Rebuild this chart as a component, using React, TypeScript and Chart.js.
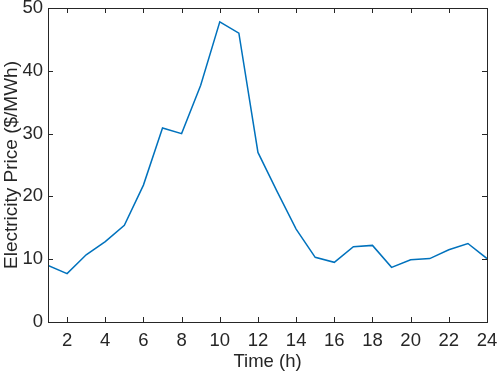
import React, { useEffect, useRef } from "react";
import { Chart, registerables } from "chart.js";

Chart.register(...registerables);

const hours = [1, 2, 3, 4, 5, 6, 7, 8, 9, 10, 11, 12, 13, 14, 15, 16, 17, 18, 19, 20, 21, 22, 23, 24];
const prices = [9.0, 7.7, 10.7, 12.8, 15.4, 21.8, 30.9, 30.0, 37.7, 47.8, 46.0, 27.0, 20.8, 14.8, 10.3, 9.5, 12.0, 12.2, 8.7, 9.9, 10.1, 11.5, 12.5, 10.1];
const xTickValues = [2, 4, 6, 8, 10, 12, 14, 16, 18, 20, 22, 24];
const yTickValues = [0, 10, 20, 30, 40, 50];
const xLabel = "Time (h)";
const yLabel = "Electricity Price ($/MWh)";

const FONT = "'Liberation Sans', Arial, Helvetica, sans-serif";
const AXIS_COLOR = "#262626";
const FS = 18.5;

const boxPlugin = {
  id: "matlabBox",
  afterDraw(chart: any) {
    const { ctx, chartArea } = chart;
    const { left, right, top, bottom } = chartArea;
    const xs = chart.scales.x;
    const ys = chart.scales.y;
    const len = 5;
    ctx.save();
    ctx.strokeStyle = AXIS_COLOR;
    ctx.lineWidth = 1;
    ctx.beginPath();
    xs.ticks.forEach((t: any) => {
      const px = Math.round(xs.getPixelForValue(t.value)) + 0.5;
      ctx.moveTo(px, bottom);
      ctx.lineTo(px, bottom - len);
      ctx.moveTo(px, top);
      ctx.lineTo(px, top + len);
    });
    ys.ticks.forEach((t: any) => {
      const py = Math.round(ys.getPixelForValue(t.value)) + 0.5;
      ctx.moveTo(left, py);
      ctx.lineTo(left + len, py);
      ctx.moveTo(right, py);
      ctx.lineTo(right - len, py);
    });
    ctx.stroke();
    ctx.strokeRect(Math.round(left) + 0.5, Math.round(top) + 0.5, Math.round(right - left), Math.round(bottom - top));
    ctx.restore();
  },
};

export default function App() {
  const ref = useRef<HTMLCanvasElement>(null);
  useEffect(() => {
    document.body.style.margin = "0";
    const canvas = ref.current!;
    const chart = new Chart(canvas, {
      type: "line",
      data: {
        datasets: [
          {
            data: hours.map((h, i) => ({ x: h, y: prices[i] })),
            borderColor: "#0072BD",
            borderWidth: 1.5,
            pointRadius: 0,
            fill: false,
            tension: 0,
          },
        ],
      },
      options: {
        animation: false,
        responsive: false,
        maintainAspectRatio: false,
        layout: { padding: { top: 8, right: 11, left: 0, bottom: 0 } },
        plugins: { legend: { display: false }, tooltip: { enabled: false } },
        scales: {
          x: {
            type: "linear",
            min: 1,
            max: 24,
            afterBuildTicks: (s: any) => {
              s.ticks = xTickValues.map((v) => ({ value: v }));
            },
            afterFit: (s: any) => {
              s.height = 51;
              s.paddingLeft = 0;
              s.paddingRight = 0;
            },
            grid: { display: false, drawTicks: false },
            border: { display: false },
            ticks: {
              color: AXIS_COLOR,
              font: { family: FONT, size: FS },
              padding: 8,
              maxRotation: 0,
              autoSkip: false,
            },
            title: {
              display: true,
              text: xLabel,
              color: AXIS_COLOR,
              font: { family: FONT, size: FS },
              padding: { top: 0, bottom: 0 },
            },
          },
          y: {
            type: "linear",
            min: 0,
            max: 50,
            afterBuildTicks: (s: any) => {
              s.ticks = yTickValues.map((v) => ({ value: v }));
            },
            afterFit: (s: any) => {
              s.width = 48;
              s.paddingTop = 0;
              s.paddingBottom = 0;
            },
            grid: { display: false, drawTicks: false },
            border: { display: false },
            ticks: {
              color: AXIS_COLOR,
              font: { family: FONT, size: FS },
              padding: 5,
            },
            title: {
              display: true,
              text: yLabel,
              color: AXIS_COLOR,
              font: { family: FONT, size: 19 },
              padding: { top: 0, bottom: 2 },
            },
          },
        },
      },
      plugins: [boxPlugin],
    });
    return () => chart.destroy();
  }, []);
  return <canvas ref={ref} width={498} height={373} style={{ display: "block" }} />;
}
